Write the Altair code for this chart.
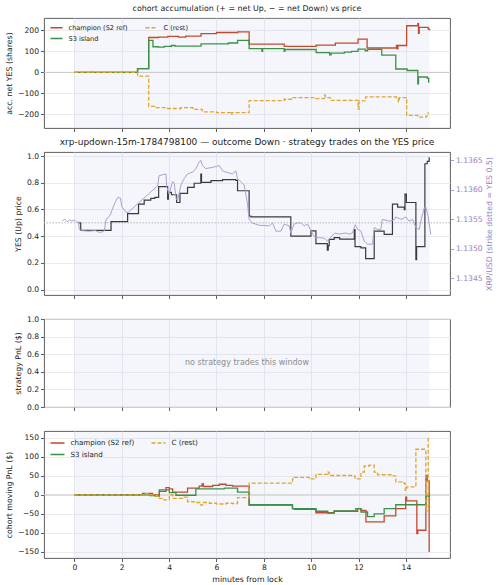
import altair as alt
import pandas as pd

# ---------------- shared time axis (minutes from lock) ----------------
X_DOMAIN = [-1.28, 15.86]
X_TICKS = [0, 2, 4, 6, 8, 10, 12, 14]
WINDOW_START = [0]
WINDOW_END = [15]

SERIES = ["champion (S2 ref)", "S3 island", "C (rest)"]
COLORS = ["#c4492a", "#3b9148", "#e2a52a"]
DASHES = [[1, 0], [1, 0], [4, 2]]

# ---------------- panel 1: accumulated net YES shares ----------------
ACC_TICKS = [-200, -100, 0, 100, 200]
acc_champ_t = [0, 2.67, 3.14, 3.55, 3.95, 4.4, 4.7, 5.35, 6.0, 6.9, 7.38, 8.86, 10.21, 11.02,
               11.98, 12.36, 13.6, 13.63, 13.66, 14.03, 14.5, 14.53, 14.56, 14.94, 15.0]
acc_champ_v = [0, 18, 166, 168, 171, 168, 173, 185, 190, 193, 135, 124, 130, 139,
               158, 116, 128, 112, 128, 222, 232, 186, 214, 206, 201]

acc_s3_t = [0, 2.67, 3.14, 3.32, 3.55, 3.8, 4.1, 4.25, 5.35, 6.5, 6.89, 7.38, 7.92, 7.95,
            8.86, 8.89, 10.21, 10.78, 10.84, 11.4, 11.7, 11.98, 12.28, 12.38, 12.98, 13.57,
            14.05, 14.5, 14.53, 14.9, 14.96]
acc_s3_v = [0, 18, 152, 122, 120, 124, 128, 125, 136, 140, 152, 113, 100, 113,
            100, 109, 94, 84, 92, 96, 100, 111, 103, 110, 82, 16,
            9, -55, -22, -28, -50]

acc_rest_t = [0, 0.7, 0.75, 1.8, 1.85, 2.67, 3.14, 3.4, 3.9, 4.5, 5.0, 5.4, 6.0, 6.6, 6.65,
              7.38, 8.86, 9.2, 10.21, 10.55, 10.6, 10.8, 11.98, 12.02, 12.3, 13.6, 13.68,
              13.72, 14.03, 14.5, 14.85, 14.94]
acc_rest_v = [0, 5, 0, 3, 0, -18, -162, -168, -172, -168, -176, -188, -192, -200, -192,
              -135, -128, -120, -125, -108, -120, -133, -175, -136, -117, -120, -140,
              -120, -205, -213, -208, -190]

# ---------------- panel 2: YES (Up) price and XRP/USD ----------------
YES_TICKS = [0, 0.2, 0.4, 0.6, 0.8, 1.0]
yes_t = [0.2, 0.27, 1.55, 2.25, 2.71, 2.95, 3.23, 3.4, 3.56, 3.94, 3.97, 4.1, 4.32, 4.46,
         4.78, 5.06, 5.34, 5.37, 5.77, 6.26, 6.82, 6.89, 7.38, 7.45, 9.14, 9.99, 10.2,
         10.68, 10.72, 10.76, 10.97, 11.2, 11.82, 11.85, 12.1, 12.3, 12.66, 13.08, 13.43,
         13.65, 13.93, 13.96, 14.02, 14.42, 14.45, 14.8, 14.9, 14.98]
yes_p = [0.50, 0.443, 0.509, 0.569, 0.640, 0.670, 0.683, 0.690, 0.771, 0.678, 0.728, 0.710,
         0.652, 0.721, 0.766, 0.796, 0.865, 0.803, 0.816, 0.823, 0.818, 0.740, 0.551, 0.545,
         0.400, 0.440, 0.345, 0.295, 0.330, 0.376, 0.390, 0.378, 0.450, 0.322, 0.312, 0.232,
         0.438, 0.413, 0.640, 0.617, 0.598, 0.715, 0.652, 0.224, 0.322, 0.942, 0.960, 0.990]

xrp_t = [-0.5, -0.4, -0.3, -0.2, -0.1, 0.0, 0.1, 0.18, 0.21, 0.3, 0.6, 0.9, 1.05, 1.2, 1.27,
         1.34, 1.5, 1.69, 1.83, 1.95, 2.0, 2.18, 2.28, 3.52, 3.58, 3.87, 3.9, 4.0, 4.15,
         4.22, 4.3, 4.36, 4.5, 4.64, 4.78, 5.0, 5.13, 5.27, 5.34, 5.41, 5.55, 5.84, 6.12,
         6.26, 6.4, 6.68, 6.82, 6.89, 7.03, 7.17, 7.31, 7.38, 7.5, 7.81, 8.23, 8.37, 8.51,
         8.72, 8.86, 9.07, 9.14, 9.28, 9.42, 9.56, 9.71, 9.85, 10.0, 10.13, 10.34, 10.55,
         10.69, 10.83, 11.0, 11.2, 11.46, 11.6, 11.74, 11.86, 11.96, 12.1, 12.24, 12.38,
         12.59, 12.66, 12.8, 12.94, 13.0, 13.3, 13.5, 13.57, 13.79, 14.0, 14.13, 14.28,
         14.42, 14.56, 14.63, 14.77, 14.84, 14.93, 15.05]
xrp_p = [1.13548, 1.13550, 1.13546, 1.13549, 1.13547, 1.13549, 1.13545, 1.13546, 1.13533,
         1.13531, 1.13530, 1.13531, 1.13528, 1.13529, 1.13531, 1.13550, 1.13556, 1.13576,
         1.13587, 1.13586, 1.13572, 1.13562, 1.13562, 1.13607, 1.13624, 1.13627, 1.13605,
         1.13593, 1.13614, 1.13611, 1.13584, 1.13582, 1.13608, 1.13619, 1.13627, 1.13630,
         1.13636, 1.13647, 1.13650, 1.13641, 1.13636, 1.13638, 1.13641, 1.13632, 1.13630,
         1.13627, 1.13632, 1.13619, 1.13614, 1.13608, 1.13577, 1.13550, 1.13544, 1.13540,
         1.13539, 1.13544, 1.13530, 1.13530, 1.13542, 1.13539, 1.13527, 1.13542, 1.13544,
         1.13544, 1.13539, 1.13542, 1.13530, 1.13521, 1.13519, 1.13518, 1.13513, 1.13520,
         1.13527, 1.13525, 1.13527, 1.13525, 1.13527, 1.13541, 1.13533, 1.13530, 1.13513,
         1.13508, 1.13508, 1.13536, 1.13533, 1.13533, 1.13550, 1.13547, 1.13549, 1.13554,
         1.13550, 1.13554, 1.13547, 1.13550, 1.13536, 1.13533, 1.13547, 1.13569, 1.13571,
         1.13556, 1.13524]
XRP_TICKS = [1.1345, 1.1350, 1.1355, 1.1360, 1.1365]

# ---------------- panel 4: cohort moving PnL ($) ----------------
PNL_TICKS = [-150, -100, -50, 0, 50, 100, 150]
pnl_champ_t = [0, 2.88, 3.3, 3.59, 3.87, 4.01, 4.15, 4.78, 5.27, 5.39, 5.45, 5.84, 6.12, 6.4,
               6.68, 7.38, 9.21, 9.3, 10.2, 10.97, 11.96, 12.1, 12.31, 13.08, 13.57, 13.99,
               14.03, 14.46, 14.5, 14.84, 14.9, 14.98]
pnl_champ_v = [0, 4, 0, 9, 19, 16, 7, 18, 23, 29, 22, 25, 28, 25,
               23, -27, -36, -38, -47, -43, -36, -41, -71, -55, -36, -6,
               -16, -102, -93, 51, 37, -150]

pnl_s3_t = [0, 3.2, 3.41, 3.59, 4.01, 4.29, 5.13, 6.33, 6.89, 7.38, 9.21, 10.2, 10.7, 10.97,
            11.88, 12.1, 12.38, 12.66, 13.08, 13.57, 14.84, 14.97]
pnl_s3_v = [0, -2, -3, 13, 6, -1, 16, 18, 7, -26, -36, -43, -48, -42,
            -36, -45, -57, -50, -36, -26, -3, 5]

pnl_rest_t = [0, 3.0, 3.2, 3.45, 3.59, 3.73, 4.01, 4.15, 4.57, 4.78, 5.13, 5.34, 5.41, 5.7,
              6.0, 6.4, 6.68, 6.89, 7.38, 9.21, 9.28, 9.91, 10.2, 10.7, 10.76, 11.74, 11.85,
              12.1, 12.24, 12.45, 12.66, 12.8, 13.43, 13.57, 13.92, 13.97, 14.03, 14.42,
              14.84, 14.94, 14.98]
pnl_rest_v = [0, 3, 0, -3, -9, -13, 0, -9, -6, -18, -20, -27, -20, -22,
              -24, -22, -23, -7, 31, 42, 46, 42, 54, 60, 51, 50, 42,
              60, 76, 78, 60, 53, 50, 34, 30, 12, 21, 120,
              -42, 152, 152]

# ---------------- styling ----------------
W = 406
FONT = "DejaVu Sans"
PURPLE_LINE = "#ae9fd2"
PURPLE_TEXT = "#9a80c2"


def long_frame(parts):
    rows = []
    for name, ts, vs in parts:
        rows += [{"t": t, "v": v, "s": name} for t, v in zip(ts, vs)]
    return pd.DataFrame(rows)


acc_df = long_frame([("champion (S2 ref)", acc_champ_t, acc_champ_v),
                     ("S3 island", acc_s3_t, acc_s3_v),
                     ("C (rest)", acc_rest_t, acc_rest_v)])
pnl_df = long_frame([("champion (S2 ref)", pnl_champ_t, pnl_champ_v),
                     ("S3 island", pnl_s3_t, pnl_s3_v),
                     ("C (rest)", pnl_rest_t, pnl_rest_v)])
yes_df = pd.DataFrame({"t": yes_t, "p": yes_p})
xrp_df = pd.DataFrame({"t": xrp_t, "p": xrp_p})
band_df = pd.DataFrame({"start": WINDOW_START, "end": WINDOW_END})
zero_df = pd.DataFrame({"v": [0]})


def x_enc(field, bottom=False):
    axis = alt.Axis(values=X_TICKS, labels=bottom, grid=True, labelOverlap=False,
                    title="minutes from lock" if bottom else None)
    return alt.X(field, type="quantitative",
                 scale=alt.Scale(domain=X_DOMAIN, nice=False, zero=False), axis=axis)


def band(bottom=False):
    return alt.Chart(band_df).mark_rect(fill="#c9d3ec", opacity=0.2).encode(
        x=x_enc("start", bottom), x2="end:Q")


def cohort_panel(df, y_domain, y_ticks, y_title, height, legend_style, bottom=False):
    y_scale = alt.Scale(domain=y_domain, nice=False, zero=False)
    y_axis = alt.Axis(values=y_ticks, tickCount=len(y_ticks), title=y_title, grid=True,
                      labelOverlap=False)
    y = alt.Y("v:Q", scale=y_scale, axis=y_axis)
    legend = alt.Legend(orient="none", columns=2, title=None, symbolType="stroke",
                        symbolStrokeWidth=1.5, labelFont=FONT, labelColor="#222",
                        padding=0, **legend_style)
    color = alt.Color("s:N", scale=alt.Scale(domain=SERIES, range=COLORS), legend=legend)
    dash = alt.StrokeDash("s:N", scale=alt.Scale(domain=SERIES, range=DASHES), legend=legend)
    zero = alt.Chart(zero_df).mark_rule(color="#c9c9c9", strokeWidth=1).encode(y=y)
    layers = [band(bottom), zero]
    for name in SERIES:
        layers.append(
            alt.Chart(df).transform_filter(alt.datum.s == name)
            .mark_line(interpolate="step-after", strokeWidth=1.3)
            .encode(x=x_enc("t", bottom), y=y, color=color, strokeDash=dash)
        )
    return alt.layer(*layers).properties(width=W, height=height)


p1 = cohort_panel(
    acc_df, [-265, 259], ACC_TICKS, "acc. net YES (shares)", 110,
    dict(labelFontSize=6.6, symbolSize=144, rowPadding=-2, columnPadding=14,
         labelOffset=5, legendX=5.5, legendY=2.5),
).properties(title=alt.TitleParams(
    "cohort accumulation (+ = net Up, \u2212 = net Down) vs price", fontSize=7.9))

# price panel: YES price on the left axis, XRP/USD on the right axis
yes_scale = alt.Scale(domain=[-0.04, 1.03], nice=False, zero=False)
yes_axis = alt.Axis(values=YES_TICKS, format=".1f",
                    title="YES (Up) price", grid=True, labelOverlap=False)
strike = alt.Chart(band_df).mark_rule(color="#b8b8b8", strokeDash=[1.5, 1.5],
                                      strokeWidth=1).encode(
    y=alt.YDatum(0.5, scale=yes_scale, axis=yes_axis))
yes_line = alt.Chart(yes_df).mark_line(interpolate="step-after", color="#3a3a3a",
                                       strokeWidth=1.2).encode(
    x=x_enc("t"), y=alt.Y("p:Q", scale=yes_scale, axis=yes_axis))
xrp_line = alt.Chart(xrp_df).mark_line(color=PURPLE_LINE, strokeWidth=1.0).encode(
    x=x_enc("t"),
    y=alt.Y("p:Q", scale=alt.Scale(domain=[1.13422, 1.13664], nice=False, zero=False),
            axis=alt.Axis(orient="right", values=XRP_TICKS, format=".4f", grid=False,
                          labelOverlap=False,
                          title="XRP/USD (strike dotted = YES 0.5)", titleAngle=270,
                          titleBaseline="top", titlePadding=3,
                          labelColor=PURPLE_TEXT, titleColor=PURPLE_TEXT,
                          tickColor=PURPLE_TEXT)))
p2 = alt.layer(alt.layer(band(), strike, yes_line), xrp_line).resolve_scale(
    y="independent").properties(
    width=W, height=143,
    title=alt.TitleParams(
        "xrp-updown-15m-1784798100 \u2014 outcome Down \u00b7 strategy trades on the YES price",
        fontSize=9))

# strategy PnL panel (empty window)
note = alt.Chart(band_df).mark_text(text="no strategy trades this window", color="#8c8c8c",
                                    fontSize=8, font=FONT).encode(
    x=alt.XDatum(sum(X_DOMAIN) / 2),
    y=alt.YDatum(0.5, scale=alt.Scale(domain=[0, 1], nice=False, zero=False),
                 axis=alt.Axis(values=YES_TICKS, format=".1f",
                               title="strategy PnL ($)", grid=True, labelOverlap=False)))
p3 = alt.layer(band(), note).properties(width=W, height=88)

p4 = cohort_panel(
    pnl_df, [-166, 168], PNL_TICKS, "cohort moving PnL ($)", 127,
    dict(labelFontSize=7.1, symbolSize=196, rowPadding=-3.5, columnPadding=14,
         labelOffset=5, legendX=5.5, legendY=3.5),
    bottom=True)

chart = alt.vconcat(p1, p2, p3, p4, spacing=24, bounds="flush").resolve_scale(
    color="independent", strokeDash="independent").resolve_legend(
    color="independent", strokeDash="independent").configure(
    font=FONT, padding={"left": 5, "top": 4, "right": 3, "bottom": 5},
).configure_view(
    stroke="#4d4d4d", strokeWidth=0.9,
).configure_axis(
    labelFont=FONT, labelFontSize=7.6, labelColor="#222", labelOverlap=False,
    titleFont=FONT, titleFontSize=7.8, titleFontWeight="normal", titleColor="#222",
    tickColor="#333", tickSize=3.5, tickWidth=0.8, domain=False,
    gridColor="#e4e5eb", gridWidth=0.8, labelPadding=2, titlePadding=4,
).configure_title(
    font=FONT, fontWeight="normal", color="#222", offset=5,
)

chart.save("out.html", embed_options={"renderer": "svg", "actions": False})
